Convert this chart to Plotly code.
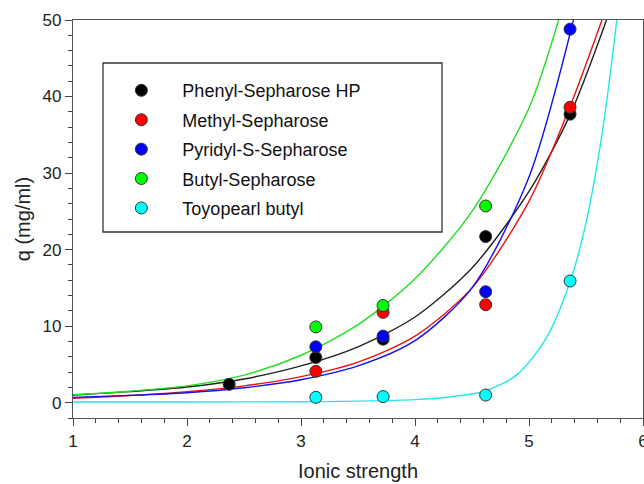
import plotly.graph_objects as go

# ---- data ----
names = ["Phenyl-Sepharose HP", "Methyl-Sepharose", "Pyridyl-S-Sepharose",
         "Butyl-Sepharose", "Toyopearl butyl"]
colors = ["#000000", "#ff0000", "#0000ff", "#00ff00", "#00ffff"]
line_colors = ["#222222", "#ee1111", "#1111ee", "#22dd22", "#22e8e8"]

# measured points
phenyl_x = [2.37, 3.13, 3.72, 4.62, 5.36]
phenyl_y = [2.4, 5.9, 8.3, 21.7, 37.7]
methyl_x = [3.13, 3.72, 4.62, 5.36]
methyl_y = [4.1, 11.8, 12.8, 38.6]
pyridyl_x = [3.13, 3.72, 4.62, 5.36]
pyridyl_y = [7.3, 8.7, 14.5, 48.8]
butyl_x = [3.13, 3.72, 4.62]
butyl_y = [9.9, 12.7, 25.7]
toyo_x = [3.13, 3.72, 4.62, 5.36]
toyo_y = [0.7, 0.8, 1.0, 15.9]

# fitted curves
phenyl_fit_x = [1.0, 1.5, 2.0, 2.5, 3.0, 3.5, 4.0, 4.5, 5.0, 5.36, 5.68]
phenyl_fit_y = [1.0, 1.45, 2.05, 3.1, 4.8, 7.3, 11.2, 17.6, 27.6, 37.6, 50.0]
methyl_fit_x = [1.0, 1.5, 2.0, 2.5, 3.0, 3.5, 4.0, 4.5, 5.0, 5.36, 5.64]
methyl_fit_y = [0.57, 0.93, 1.45, 2.2, 3.4, 5.3, 8.7, 15.0, 26.3, 38.7, 50.0]
pyridyl_fit_x = [1.0, 1.5, 2.0, 2.5, 3.0, 3.5, 4.0, 4.5, 5.0, 5.39]
pyridyl_fit_y = [0.7, 0.95, 1.3, 1.95, 3.0, 4.8, 8.1, 15.0, 29.5, 50.0]
butyl_fit_x = [1.0, 1.5, 2.0, 2.5, 3.0, 3.5, 4.0, 4.5, 5.0, 5.26]
butyl_fit_y = [1.05, 1.5, 2.2, 3.6, 6.2, 10.2, 16.2, 25.0, 38.5, 50.0]
toyo_fit_x = [1.0, 2.0, 3.0, 3.5, 4.0, 4.3, 4.61, 4.89, 5.15, 5.36, 5.5, 5.65, 5.77]
toyo_fit_y = [0.1, 0.1, 0.12, 0.2, 0.4, 0.75, 1.5, 3.6, 8.4, 15.8, 23.5, 36.0, 50.0]

x_ticks = [1, 2, 3, 4, 5, 6]
y_ticks = [0, 10, 20, 30, 40, 50]

points = [(phenyl_x, phenyl_y), (methyl_x, methyl_y), (pyridyl_x, pyridyl_y),
          (butyl_x, butyl_y), (toyo_x, toyo_y)]
fits = [(phenyl_fit_x, phenyl_fit_y), (methyl_fit_x, methyl_fit_y),
        (pyridyl_fit_x, pyridyl_fit_y), (butyl_fit_x, butyl_fit_y),
        (toyo_fit_x, toyo_fit_y)]

FONT = "Liberation Sans, Arial, sans-serif"
fig = go.Figure()

for i, (fx, fy) in enumerate(fits):
    fig.add_trace(go.Scatter(x=fx, y=fy, mode="lines", showlegend=False,
                             line=dict(color=line_colors[i], width=1.4, shape="spline", smoothing=0.8),
                             hoverinfo="skip"))

for i, (px, py) in enumerate(points):
    fig.add_trace(go.Scatter(x=px, y=py, mode="markers", name=names[i],
                             legendgroup=names[i],
                             marker=dict(size=12, color=colors[i],
                                         line=dict(color="#333333", width=1)),
                             cliponaxis=False))

fig.update_layout(
    width=644, height=484,
    margin=dict(l=73, r=1, t=20, b=66),
    paper_bgcolor="white", plot_bgcolor="white",
    font=dict(family=FONT, size=17, color="#222222"),
    showlegend=True,
    legend=dict(x=0.048, y=0.869, xanchor="left", yanchor="top",
                bgcolor="rgba(0,0,0,0)", borderwidth=0,
                font=dict(family=FONT, size=18, color="#111111"),
                tracegroupgap=3, itemwidth=72),
    shapes=[dict(type="rect", xref="paper", yref="paper",
                 x0=(103 - 73) / 570, x1=(442 - 73) / 570,
                 y0=(418 - 232) / 398, y1=(418 - 63) / 398,
                 line=dict(color="#333333", width=1.3), fillcolor="white",
                 layer="below")],
)

fig.update_xaxes(range=[1, 6], tickvals=x_ticks, ticks="outside", ticklen=7,
                 tickwidth=1, tickcolor="#444444", showline=True, linecolor="#555555",
                 linewidth=1.3, mirror=True, showgrid=False, zeroline=False,
                 automargin=False, tickfont=dict(size=17), ticklabeloverflow="allow",
                 minor=dict(dtick=0.2, ticks="outside", ticklen=4, tickcolor="#444444"),
                 title=dict(text="Ionic strength", font=dict(size=20), standoff=14))
fig.update_yaxes(range=[-2, 50], tickvals=y_ticks, ticks="outside", ticklen=7,
                 tickwidth=1, tickcolor="#444444", showline=True, linecolor="#555555",
                 linewidth=1.3, mirror=True, showgrid=False, zeroline=False,
                 automargin=False, tickfont=dict(size=17), ticklabeloverflow="allow",
                 minor=dict(tick0=0, dtick=2, ticks="outside", ticklen=4, tickcolor="#444444"),
                 title=dict(text="q (mg/ml)", font=dict(size=20), standoff=6))

fig.write_html("out.html", config={"displayModeBar": False},
               post_script="document.body.style.margin='0';document.body.style.overflow='hidden';")
